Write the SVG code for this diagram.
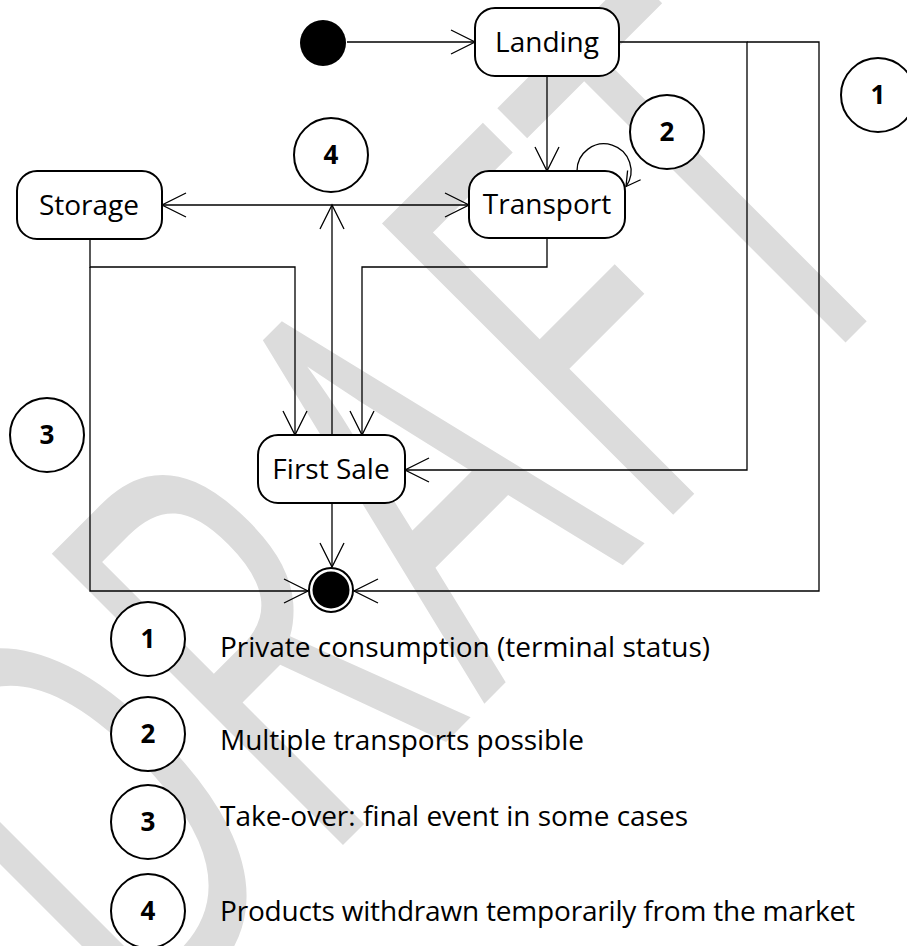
<svg xmlns="http://www.w3.org/2000/svg" width="907" height="946" viewBox="0 0 907 946">
<style>
.node rect{fill:#fff;stroke:#000;stroke-width:2}
.node text{font-family:"Open Sans","Liberation Sans",sans-serif;font-size:28px;fill:#000;text-anchor:middle}
.ann circle{fill:#fff;stroke:#000;stroke-width:2}
.ann text{font-family:"Open Sans","Liberation Sans",sans-serif;font-weight:bold;font-size:26px;fill:#000;text-anchor:middle}
.legend text{font-family:"Open Sans","Liberation Sans",sans-serif;font-size:28px;fill:#000}
.conn path{fill:none;stroke:#000;stroke-width:1.3}
.wm{font-family:"Open Sans","Liberation Sans",sans-serif;font-size:359px;fill:#dcdcdc}
</style>
<defs>
<marker id="arr" viewBox="-26 -14 28 28" refX="0" refY="0" markerWidth="28" markerHeight="28" markerUnits="userSpaceOnUse" orient="auto-start-reverse">
<path d="M-24,-12 L0,0 L-24,12" fill="none" stroke="#000" stroke-width="1.3"/>
</marker>
<marker id="arrS" viewBox="-18 -10 20 20" refX="0" refY="0" markerWidth="20" markerHeight="20" markerUnits="userSpaceOnUse" orient="auto">
<path d="M-14,-8 L0,0 L-14,8" fill="none" stroke="#000" stroke-width="1.3"/>
</marker>
</defs>
<rect width="907" height="946" fill="#fff"/>
<g id="watermark">
<text class="wm" transform="translate(688,500) rotate(-45) scale(1,1.607)" x="-779 -523 -288 -56 139" y="0">DRAFT</text>
</g>
<g id="connectors" class="conn">
<path d="M347,42 H475" marker-end="url(#arr)"/>
<path d="M547,76 V171" marker-end="url(#arr)"/>
<path d="M577,171 A27,27 0 1 1 626,186.5" marker-end="url(#arrS)"/>
<path d="M162,205 H469" marker-start="url(#arr)" marker-end="url(#arr)"/>
<path d="M332,435 V205" marker-end="url(#arr)"/>
<path d="M90,239 V267 H295 V435" marker-end="url(#arr)"/>
<path d="M90,267 V591 H308" marker-end="url(#arr)"/>
<path d="M547,238 V267 H362 V435" marker-end="url(#arr)"/>
<path d="M619,42 H747 V470 H405" marker-end="url(#arr)"/>
<path d="M747,42 H819 V591 H354" marker-end="url(#arr)"/>
<path d="M332,503 V567" marker-end="url(#arr)"/>
</g>
<g id="initial"><circle cx="323" cy="43" r="23" fill="#000"/></g>
<g id="final"><circle cx="331" cy="590" r="22" fill="#fff" stroke="#000" stroke-width="2"/><circle cx="331" cy="590" r="18.5" fill="#000"/></g>
<g id="landing" class="node"><rect x="475" y="8" width="144" height="68" rx="20"/><text x="547" y="52">Landing</text></g>
<g id="transport" class="node"><rect x="469" y="171" width="156" height="67" rx="20"/><text x="547" y="214">Transport</text></g>
<g id="storage" class="node"><rect x="17" y="171" width="145" height="68" rx="20"/><text x="89" y="215">Storage</text></g>
<g id="firstsale" class="node"><rect x="258" y="435" width="147" height="68" rx="20"/><text x="331" y="479">First Sale</text></g>
<g id="note1" class="ann"><circle cx="878" cy="95" r="37"/><text x="878" y="104">1</text></g>
<g id="note2" class="ann"><circle cx="667" cy="132" r="37"/><text x="667" y="141">2</text></g>
<g id="note4" class="ann"><circle cx="331" cy="155" r="37"/><text x="331" y="164">4</text></g>
<g id="note3" class="ann"><circle cx="47" cy="435" r="37"/><text x="47" y="444">3</text></g>
<g id="legend1" class="ann"><circle cx="148" cy="639" r="37"/><text x="148" y="648">1</text></g>
<g id="legend2" class="ann"><circle cx="148" cy="734" r="37"/><text x="148" y="743">2</text></g>
<g id="legend3" class="ann"><circle cx="148" cy="822" r="37"/><text x="148" y="831">3</text></g>
<g id="legend4" class="ann"><circle cx="148" cy="911" r="37"/><text x="148" y="920">4</text></g>
<g id="legend" class="legend">
<text x="220" y="657" textLength="490">Private consumption (terminal status)</text>
<text x="220" y="750" textLength="364">Multiple transports possible</text>
<text x="220" y="826" textLength="468">Take-over: final event in some cases</text>
<text x="220" y="921" textLength="635">Products withdrawn temporarily from the market</text>
</g>
</svg>
